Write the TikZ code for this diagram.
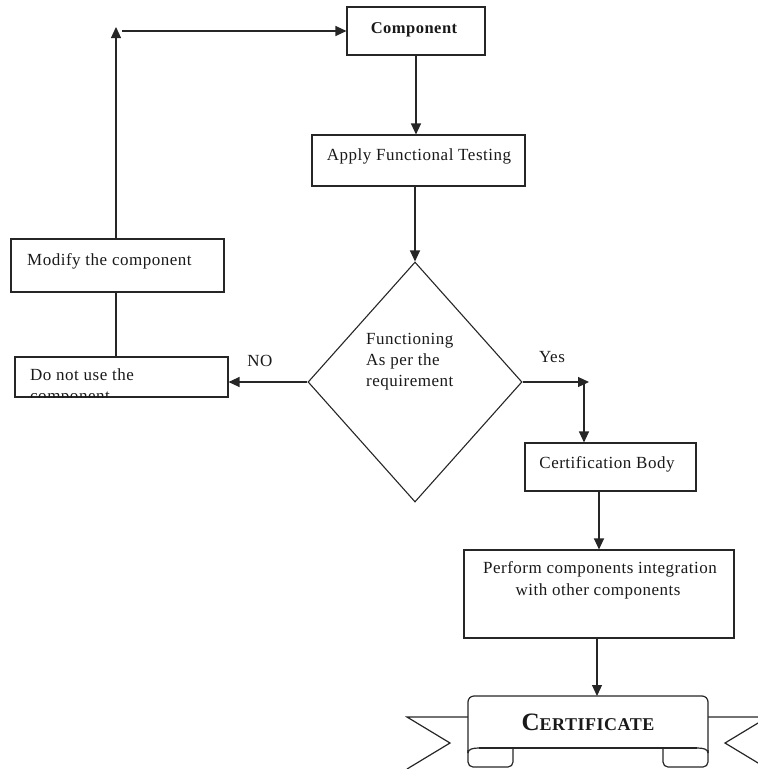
\documentclass[tikz,border=0pt]{standalone}
\usepackage{fontspec}
\setmainfont[LetterSpace=3]{Liberation Serif}
\usetikzlibrary{arrows.meta,shapes.geometric}
\begin{document}
\begin{tikzpicture}[x=1pt,y=-1pt,
  box/.style={draw=black!85,line width=1.1pt,inner sep=0pt},
  txt/.style={font=\fontsize{17}{20}\selectfont,inner sep=0pt,text=black!90},
  ln/.style={draw=black!85,line width=1.2pt},
  arr/.style={ln,-{Triangle[length=11pt,width=10pt]}}]
\useasboundingbox (0,0) rectangle (758,769);
\clip (0,0) rectangle (758,769);
% boxes
\node[box,minimum width=138pt,minimum height=48pt] (comp) at (416,31) {};
\node[box,minimum width=213pt,minimum height=51pt] (apply) at (418.5,160.5) {};
\node[box,diamond,minimum width=214pt,minimum height=240pt] (dec) at (415,382) {};
\node[box,minimum width=213pt,minimum height=53pt] (modify) at (117.5,265.5) {};
\node[box,minimum width=213pt,minimum height=40pt] (dnu) at (121.5,377) {};
\node[box,minimum width=171pt,minimum height=48pt] (certb) at (610.5,467) {};
\node[box,minimum width=270pt,minimum height=88pt] (perf) at (599,594) {};
% texts
\node[txt,anchor=base,font=\fontsize{16.5}{19}\selectfont\bfseries] (tcomp) at (414,33) {Component};
\node[txt,anchor=base] (tapply) at (419,160) {Apply Functional Testing};
\node[txt,anchor=base west] (tmod) at (27,265) {Modify the component};
\node[txt,anchor=base west] (tdnu) at (30,380) {Do not use the};
\begin{scope}
  \clip (dnu.south west) rectangle (dnu.north east);
  \node[txt,anchor=base west] (tdnu2) at (30,401) {component};
\end{scope}
\node[txt,anchor=base west] (td1) at (366,344) {Functioning};
\node[txt,anchor=base west] (td2) at (366,365) {As per the};
\node[txt,anchor=base west] (td3) at (366,386) {requirement};
\node[txt,anchor=base] (tno) at (260,366) {NO};
\node[txt,anchor=base] (tyes) at (552,362) {Yes};
\node[txt,anchor=base] (tcert) at (607,468) {Certification Body};
\node[txt,anchor=base] (tperf1) at (600,573) {Perform components integration};
\node[txt,anchor=base] (tperf2) at (598,595) {with other components};
% connectors
\coordinate (up) at (116,27);
\coordinate (hstart) at (122,31);
\coordinate (yesc) at (589,382);
\coordinate (yesv) at (584,382);
\coordinate (ribtop) at (597,696);
\draw[arr] (modify.north -| up) -- (up);
\draw[arr] (hstart) -- (comp.west);
\draw[ln] (dnu.north -| up) -- (modify.south -| up);
\draw[arr] (comp.south) -- (apply.north -| comp.south);
\draw[arr] (apply.south -| dec.north) -- (dec.north);
\draw[arr] (dec.west) -- (dnu.east |- dec.west);
\draw[arr] (dec.east) -- (yesc);
\draw[arr] (yesv) -- (certb.north -| yesv);
\draw[arr] (certb.south -| perf.north) -- (perf.north);
\draw[arr] (perf.south -| ribtop) -- (ribtop);
% certificate ribbon
\draw[ln] (468,717) -- (407,717) -- (450,743) -- (407,769);
\draw[ln] (708,717) -- (768,717) -- (725,743) -- (768,769);
\draw[ln,fill=white,rounded corners=6pt] (468,753) -- (468,696) -- (708,696) -- (708,753);
\draw[ln] (479,748) -- (697,748);
\draw[ln] (468,753) .. controls (468,749) and (473,748) .. (479,748);
\draw[ln] (708,753) .. controls (708,749) and (703,748) .. (697,748);
\draw[ln,rounded corners=5pt] (468,750) -- (468,767) -- (513,767) -- (513,748);
\draw[ln,rounded corners=5pt] (708,750) -- (708,767) -- (663,767) -- (663,748);
\node[txt,anchor=base,font=\bfseries] (tcertif) at (588,730) {{\fontsize{25}{25}\selectfont C}{\fontsize{18}{18}\selectfont ERTIFICATE}};
\end{tikzpicture}
\end{document}
